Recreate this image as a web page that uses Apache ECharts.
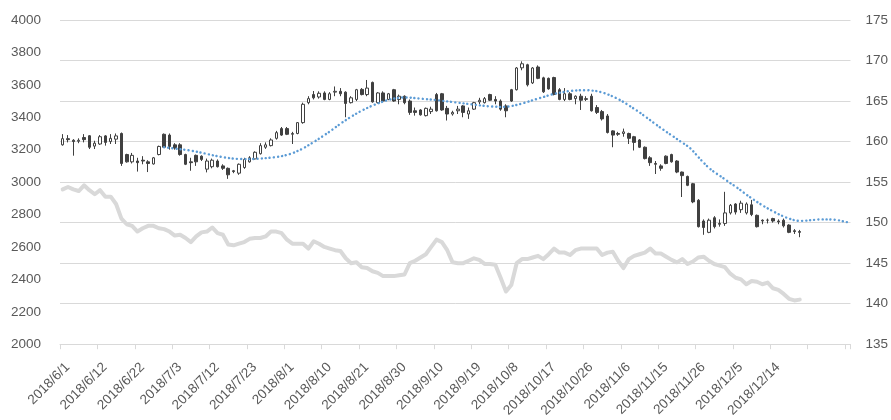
<!DOCTYPE html>
<html>
<head>
<meta charset="utf-8">
<script src="https://cdn.jsdelivr.net/npm/echarts@6/dist/echarts.min.js"></script>
<style>
html,body{margin:0;padding:0;background:#ffffff;}
#c{width:891px;height:420px;}
</style>
</head>
<body>
<div id="c"></div>
<script>
// Trading days (x categories); trailing blanks extend the axis as in the reference
const categories = [
'2018/6/1','2018/6/4','2018/6/5','2018/6/6','2018/6/7','2018/6/8','2018/6/11','2018/6/12','2018/6/13','2018/6/14',
'2018/6/15','2018/6/19','2018/6/20','2018/6/21','2018/6/22','2018/6/25','2018/6/26','2018/6/27','2018/6/28','2018/6/29',
'2018/7/2','2018/7/3','2018/7/4','2018/7/5','2018/7/6','2018/7/9','2018/7/10','2018/7/11','2018/7/12','2018/7/13',
'2018/7/16','2018/7/17','2018/7/18','2018/7/19','2018/7/20','2018/7/23','2018/7/24','2018/7/25','2018/7/26','2018/7/27',
'2018/7/30','2018/7/31','2018/8/1','2018/8/2','2018/8/3','2018/8/6','2018/8/7','2018/8/8','2018/8/9','2018/8/10',
'2018/8/13','2018/8/14','2018/8/15','2018/8/16','2018/8/17','2018/8/20','2018/8/21','2018/8/22','2018/8/23','2018/8/24',
'2018/8/27','2018/8/28','2018/8/29','2018/8/30','2018/8/31','2018/9/3','2018/9/4','2018/9/5','2018/9/6','2018/9/7',
'2018/9/10','2018/9/11','2018/9/12','2018/9/13','2018/9/14','2018/9/17','2018/9/18','2018/9/19','2018/9/20','2018/9/21',
'2018/9/25','2018/9/26','2018/9/27','2018/9/28','2018/10/8','2018/10/9','2018/10/10','2018/10/11','2018/10/12','2018/10/15',
'2018/10/16','2018/10/17','2018/10/18','2018/10/19','2018/10/22','2018/10/23','2018/10/24','2018/10/25','2018/10/26','2018/10/29',
'2018/10/30','2018/10/31','2018/11/1','2018/11/2','2018/11/5','2018/11/6','2018/11/7','2018/11/8','2018/11/9','2018/11/12',
'2018/11/13','2018/11/14','2018/11/15','2018/11/16','2018/11/19','2018/11/20','2018/11/21','2018/11/22','2018/11/23','2018/11/26',
'2018/11/27','2018/11/28','2018/11/29','2018/11/30','2018/12/3','2018/12/4','2018/12/5','2018/12/6','2018/12/7','2018/12/10',
'2018/12/11','2018/12/12','2018/12/13','2018/12/14','2018/12/17','2018/12/18','2018/12/19','2018/12/20','2018/12/21',
'','','','','','','','',''
];

const opens = [
3230,3268,3258,3252,3275,3286,3222,3235,3285,3250,
3265,3300,3170,3125,3130,3135,3125,3112,3170,3295,
3290,3230,3230,3170,3125,3165,3160,3080,3095,3130,
3100,3085,3070,3055,3090,3125,3143,3175,3215,3225,
3270,3330,3330,3295,3300,3367,3490,3540,3525,3550,
3510,3555,3560,3555,3490,3510,3572,3540,3615,3490,
3550,3510,3570,3510,3530,3500,3440,3445,3410,3435,
3540,3545,3455,3420,3440,3470,3420,3450,3495,3490,
3540,3510,3500,3470,3570,3570,3705,3724,3612,3710,
3643,3640,3645,3570,3510,3545,3515,3530,3510,3530,
3460,3435,3408,3316,3300,3300,3300,3280,3260,3215,
3150,3115,3100,3160,3170,3130,3062,3035,2990,2888,
2760,2690,2780,2745,2745,2810,2865,2830,2810,2860,
2795,2765,2765,2775,2760,2765,2735,2700,2695
];
const closes = [
3268,3262,3250,3258,3262,3215,3240,3280,3245,3270,
3285,3115,3125,3165,3120,3130,3115,3150,3220,3215,
3220,3210,3170,3110,3120,3125,3140,3130,3135,3095,
3085,3045,3065,3110,3140,3150,3184,3225,3230,3260,
3305,3290,3295,3300,3367,3480,3515,3520,3548,3510,
3545,3560,3545,3485,3520,3570,3540,3580,3495,3550,
3500,3545,3500,3530,3490,3430,3430,3415,3455,3450,
3440,3445,3420,3430,3450,3430,3440,3490,3505,3515,
3505,3500,3450,3440,3500,3704,3730,3600,3704,3640,
3557,3575,3541,3510,3545,3510,3530,3505,3515,3440,
3430,3390,3306,3290,3295,3310,3270,3245,3215,3145,
3120,3110,3085,3115,3125,3062,3040,2980,2878,2725,
2720,2765,2725,2740,2810,2857,2815,2870,2865,2800,
2725,2760,2765,2760,2755,2730,2690,2695,2690
];
const lows = [
3225,3245,3163,3240,3245,3204,3204,3230,3225,3235,
3235,3100,3120,3115,3065,3110,3062,3108,3165,3210,
3200,3200,3163,3105,3070,3100,3130,3060,3085,3090,
3075,3020,3055,3045,3082,3120,3140,3170,3205,3220,
3262,3285,3290,3235,3295,3360,3480,3510,3515,3505,
3505,3530,3530,3400,3485,3500,3535,3530,3490,3485,
3495,3505,3495,3480,3480,3415,3410,3410,3405,3420,
3435,3440,3380,3410,3420,3400,3390,3445,3480,3485,
3500,3480,3440,3400,3495,3565,3690,3590,3605,3635,
3550,3570,3535,3505,3500,3505,3480,3445,3500,3435,
3420,3380,3300,3215,3285,3280,3235,3195,3210,3140,
3100,3050,3070,3110,3120,3055,2908,2975,2870,2720,
2675,2685,2714,2725,2730,2800,2800,2810,2800,2790,
2720,2740,2745,2750,2740,2720,2685,2680,2660
];
const highs = [
3296,3290,3265,3270,3296,3290,3255,3290,3290,3296,
3300,3306,3175,3180,3150,3160,3135,3155,3225,3300,
3300,3240,3240,3175,3150,3170,3165,3145,3145,3140,
3110,3090,3075,3115,3150,3160,3190,3240,3245,3270,
3316,3340,3340,3310,3370,3490,3530,3562,3560,3560,
3555,3590,3580,3560,3530,3575,3580,3630,3620,3555,
3560,3550,3575,3540,3535,3510,3460,3450,3460,3465,
3550,3550,3470,3440,3470,3475,3460,3495,3520,3525,
3545,3530,3510,3480,3575,3710,3745,3730,3710,3720,
3650,3645,3650,3580,3580,3555,3535,3545,3530,3545,
3475,3445,3420,3320,3310,3330,3305,3285,3265,3220,
3160,3130,3110,3165,3175,3135,3065,3040,2995,2895,
2770,2775,2790,2770,2940,2865,2870,2885,2875,2890,
2800,2770,2775,2780,2770,2775,2740,2710,2705
];

// Dotted blue line (left axis), starts at category index 19
const maStartIndex = 19;
const maValues = [
3215,3211,3207,3203,3199,3194,3188,3181,3174,3166,
3160,3154,3149,3145,3143,3142,3142,3143,3145,3148,
3151,3155,3160,3168,3178,3192,3208,3227,3247,3268,
3290,3312,3336,3360,3382,3403,3423,3441,3457,3472,
3485,3497,3507,3515,3520,3522,3521,3518,3515,3512,
3509,3506,3502,3498,3494,3490,3486,3482,3478,3474,
3470,3467,3465,3464,3465,3469,3476,3485,3495,3505,
3515,3525,3535,3544,3551,3557,3562,3565,3567,3567,
3565,3561,3553,3542,3528,3512,3494,3473,3452,3430,
3406,3382,3358,3334,3311,3289,3266,3244,3222,3192,
3155,3120,3088,3062,3040,3017,2994,2972,2948,2923,
2900,2878,2857,2838,2820,2803,2788,2775,2765,2761,
2762,2765,2768,2770,2770,2769,2766,2759,2752
];

// Thick grey line (right axis)
const greyValues = [
154.1,154.4,154.1,153.9,154.6,154.0,153.5,154.0,153.2,153.2,
152.3,150.5,149.8,149.6,148.9,149.3,149.6,149.6,149.3,149.2,
148.9,148.4,148.5,148.1,147.6,148.3,148.8,148.9,149.4,148.7,
148.5,147.3,147.2,147.4,147.6,148.0,148.1,148.1,148.3,148.9,
148.9,148.7,147.9,147.4,147.4,147.4,146.8,147.7,147.4,147.0,
146.8,146.6,146.5,145.6,145.0,145.1,144.5,144.4,144.0,143.8,
143.4,143.4,143.4,143.5,143.6,145.0,145.3,145.7,146.1,147.0,
147.9,147.6,146.6,145.1,145.0,145.0,145.3,145.6,145.4,144.9,
144.9,144.8,143.2,141.5,142.3,145.0,145.5,145.5,145.7,145.9,
145.5,146.1,146.8,146.3,146.3,146.0,146.6,146.8,146.8,146.8,
146.8,146.0,146.3,146.4,145.3,144.4,145.5,145.9,146.1,146.3,
146.8,146.2,146.2,145.8,145.4,145.1,145.5,144.9,145.2,145.7,
145.8,145.3,144.9,144.7,144.5,143.7,143.2,143.0,142.4,142.8,
142.7,142.4,142.6,141.9,141.7,141.2,140.6,140.4,140.5
];

const leftMin = 2000, leftMax = 4000, leftStep = 200;
const rightMin = 135, rightMax = 175, rightStep = 5;

const ohlc = opens.map((o, i) => [o, closes[i], lows[i], highs[i]]);
const maData = categories.map((c, i) => {
  const k = i - maStartIndex;
  return (k >= 0 && k < maValues.length) ? maValues[k] : null;
});

const labelColor = '#595959';
const gridColor = '#d9d9d9';
const font = 'Liberation Sans';

const chart = echarts.init(document.getElementById('c'), null, {renderer: 'canvas'});
chart.setOption({
  animation: false,
  backgroundColor: '#ffffff',
  grid: {left: 60, right: 39, top: 20, bottom: 73, containLabel: false},
  xAxis: {
    type: 'category',
    data: categories,
    boundaryGap: true,
    axisLine: {show: true, lineStyle: {color: gridColor, width: 1}},
    axisTick: {show: true, interval: 6, length: 5, lineStyle: {color: gridColor}},
    axisLabel: {interval: 6, rotate: 45, color: labelColor, fontSize: 13.5, fontFamily: font,
                margin: 16, verticalAlign: 'top', align: 'right'}
  },
  yAxis: [
    {
      type: 'value', min: leftMin, max: leftMax, interval: leftStep, position: 'left',
      splitLine: {show: false}, axisLine: {show: false}, axisTick: {show: false},
      axisLabel: {color: labelColor, fontSize: 13.5, fontFamily: font, margin: 19,
                  formatter: v => String(v)}
    },
    {
      type: 'value', min: rightMin, max: rightMax, interval: rightStep, position: 'right',
      splitLine: {show: true, lineStyle: {color: gridColor, width: 1}},
      axisLine: {show: false}, axisTick: {show: false},
      axisLabel: {color: labelColor, fontSize: 13.5, fontFamily: font, margin: 15,
                  formatter: v => String(v)}
    }
  ],
  series: [
    {
      type: 'line', yAxisIndex: 1, data: greyValues, showSymbol: false, z: 1,
      lineStyle: {color: '#d9d9d9', width: 4, cap: 'round', join: 'round'}
    },
    {
      type: 'candlestick', yAxisIndex: 0, data: ohlc, barWidth: 3, z: 2,
      itemStyle: {color: '#ffffff', color0: '#404040', borderColor: '#404040', borderColor0: '#404040', borderWidth: 1}
    },
    {
      type: 'line', yAxisIndex: 0, data: maData, showSymbol: false, smooth: true, z: 3,
      lineStyle: {color: '#5b9bd5', width: 2.4, type: [0.1, 4], cap: 'round'}
    }
  ]
});
</script>
</body>
</html>
